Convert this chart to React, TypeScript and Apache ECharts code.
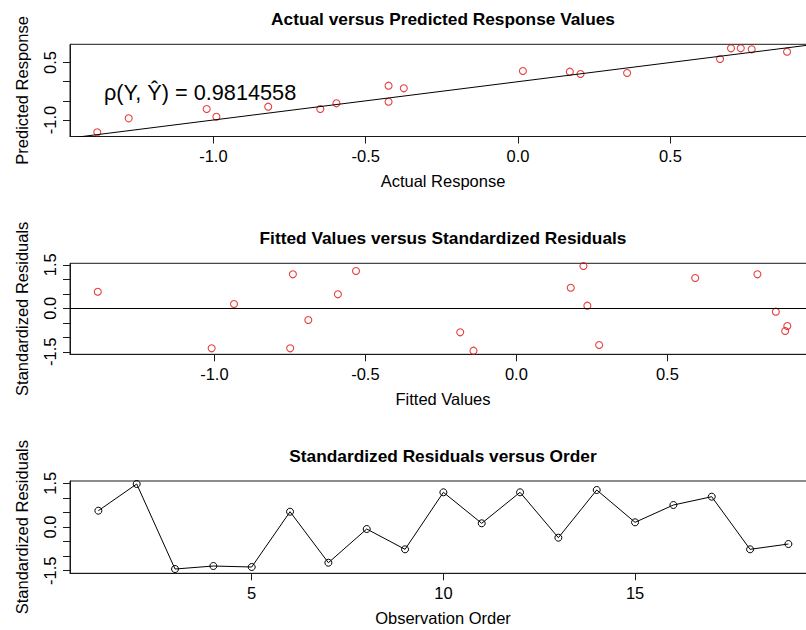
import React, { useEffect, useRef } from "react";
import * as echarts from "echarts";

// ---- Data ----
// Panel 1: Actual vs Predicted
const actualResponse = [
  -1.381, -1.278, -1.022, -0.99, -0.82, -0.649, -0.596, -0.425, -0.425, -0.375,
  0.016, 0.17, 0.205, 0.358, 0.663, 0.699, 0.731, 0.767, 0.883,
];
const predictedResponse = [
  -1.321, -0.956, -0.713, -0.914, -0.653, -0.713, -0.564, -0.105, -0.523, -0.173,
  0.278, 0.26, 0.2, 0.226, 0.591, 0.871, 0.871, 0.845, 0.782,
];
// identity reference line (y = x)
const refLineX = [-2, 2];
const refLineY = [-2, 2];
const corrLabel = "ρ(Y, Ŷ) = 0.9814558";

// Panel 2: Fitted vs Standardized Residuals
const fittedValues = [
  -1.386, -1.009, -0.935, -0.749, -0.74, -0.689, -0.591, -0.531, -0.186, -0.142,
  0.18, 0.222, 0.235, 0.274, 0.592, 0.798, 0.859, 0.897, 0.89,
];
const fittedResiduals = [
  0.572, -1.379, 0.148, -1.379, 1.172, -0.403, 0.483, 1.286, -0.828, -1.462,
  0.71, 1.459, 0.09, -1.266, 1.045, 1.172, -0.117, -0.61, -0.783,
];

// Panel 3: Standardized residuals vs observation order
const observationOrder = [1, 2, 3, 4, 5, 6, 7, 8, 9, 10, 11, 12, 13, 14, 15, 16, 17, 18, 19];
const orderResiduals = [
  0.56, 1.476, -1.442, -1.339, -1.373, 0.525, -1.226, -0.069, -0.766, 1.191,
  0.127, 1.191, -0.367, 1.27, 0.161, 0.755, 1.04, -0.766, -0.584,
];

// Tick values / labels
const xTicksResp = [-1, -0.5, 0, 0.5];
const yTicksResp = [-1, -0.5, 0, 0.5];
const yLabelsResp = [-1, 0.5];
const xTicksFitted = [-1, -0.5, 0, 0.5];
const resTicks = [-1.5, -1, -0.5, 0, 0.5, 1, 1.5];
const resLabels = [-1.5, 0, 1.5];
const orderTicks = [5, 10, 15];

const titles = [
  "Actual versus Predicted Response Values",
  "Fitted Values versus Standardized Residuals",
  "Standardized Residuals versus Order",
];
const xNames = ["Actual Response", "Fitted Values", "Observation Order"];
const yNames = ["Predicted Response", "Standardized Residuals", "Standardized Residuals"];

const FONT = "'Liberation Sans', Arial, Helvetica, sans-serif";
const AX_FONT = 16.5;
const INK = "#1a1a1a";
const RED = "#e01010";

export default function App() {
  const ref = useRef<HTMLDivElement>(null);

  useEffect(() => {
    if (!ref.current) return;
    const chart = echarts.init(ref.current, undefined, { renderer: "svg" });

    const plotLeft = 70;
    const plotWidth = 746;
    const grids = [
      { top: 44.3, height: 92.2 },
      { top: 263.3, height: 91 },
      { top: 481, height: 92.3 },
    ];

    const fmt1 = (v: number) => v.toFixed(1);
    const fmt0 = (v: number) => String(v);

    const xAxisBase = (min: number, max: number, ticks: number[], fmt: (v: number) => string, name: string, gi: number) => ({
      type: "value",
      gridIndex: gi,
      min,
      max,
      name,
      nameLocation: "middle",
      nameGap: 36,
      nameTextStyle: { fontFamily: FONT, fontSize: AX_FONT, color: "#000" },
      axisLine: { show: true, onZero: false, lineStyle: { color: INK, width: 1 } },
      axisTick: { show: true, inside: false, length: 7, customValues: ticks, lineStyle: { color: INK, width: 1 } },
      axisLabel: {
        show: true,
        customValues: ticks,
        formatter: fmt,
        margin: 11,
        fontFamily: FONT,
        fontSize: AX_FONT,
        color: "#000",
      },
      splitLine: { show: false },
    });

    const yAxisBase = (min: number, max: number, ticks: number[], labels: number[], name: string, gi: number) => ({
      type: "value",
      gridIndex: gi,
      min,
      max,
      name,
      nameLocation: "middle",
      nameGap: 40,
      nameRotate: 90,
      nameTextStyle: { fontFamily: FONT, fontSize: AX_FONT, color: "#000" },
      axisLine: { show: true, onZero: false, lineStyle: { color: INK, width: 1 } },
      axisTick: { show: true, inside: false, length: 7, customValues: ticks, lineStyle: { color: INK, width: 1 } },
      axisLabel: {
        show: true,
        customValues: labels,
        formatter: fmt1,
        rotate: 90,
        margin: 12,
        fontFamily: FONT,
        fontSize: AX_FONT,
        color: "#000",
      },
      splitLine: { show: false },
    });

    const option: any = {
      animation: false,
      backgroundColor: "#fff",
      grid: grids.map((g) => ({
        left: plotLeft,
        width: plotWidth,
        top: g.top,
        height: g.height,
        show: true,
        borderColor: INK,
        borderWidth: 1,
        backgroundColor: "transparent",
        containLabel: false,
        outerBoundsMode: "none",
      })),
      xAxis: [
        xAxisBase(-1.4706, 0.978, xTicksResp, fmt1, xNames[0], 0),
        xAxisBase(-1.478, 0.992, xTicksFitted, fmt1, xNames[1], 1),
        xAxisBase(0.26, 19.72, orderTicks, fmt0, xNames[2], 2),
      ],
      yAxis: [
        yAxisBase(-1.43, 0.975, yTicksResp, yLabelsResp, yNames[0], 0),
        yAxisBase(-1.586, 1.552, resTicks, resLabels, yNames[1], 1),
        yAxisBase(-1.589, 1.579, resTicks, resLabels, yNames[2], 2),
      ],
      graphic: [
        ...titles.map((t, i) => ({
          type: "text",
          x: plotLeft + plotWidth / 2,
          y: grids[i].top - 25,
          silent: true,
          style: {
            text: t,
            fill: "#000",
            font: `bold 17.3px ${FONT}`,
            textAlign: "center",
            textVerticalAlign: "middle",
          },
        })),
        {
          type: "text",
          x: 104,
          y: 92,
          silent: true,
          style: {
            text: corrLabel,
            fill: "#000",
            font: `21.7px ${FONT}`,
            textAlign: "left",
            textVerticalAlign: "middle",
          },
        },
      ],
      series: [
        {
          type: "line",
          xAxisIndex: 0,
          yAxisIndex: 0,
          data: refLineX.map((x, i) => [x, refLineY[i]]),
          showSymbol: false,
          symbol: "none",
          silent: true,
          clip: true,
          lineStyle: { color: "#000", width: 1 },
        },
        {
          type: "scatter",
          xAxisIndex: 0,
          yAxisIndex: 0,
          data: actualResponse.map((a, i) => [a, predictedResponse[i]]),
          symbol: "circle",
          symbolSize: 7,
          itemStyle: { color: "transparent", borderColor: RED, borderWidth: 1.1 },
        },
        {
          type: "scatter",
          xAxisIndex: 1,
          yAxisIndex: 1,
          data: fittedValues.map((f, i) => [f, fittedResiduals[i]]),
          symbol: "circle",
          symbolSize: 7,
          itemStyle: { color: "transparent", borderColor: RED, borderWidth: 1.1 },
          markLine: {
            silent: true,
            symbol: "none",
            label: { show: false },
            lineStyle: { color: "#000", type: "solid", width: 1 },
            data: [{ yAxis: 0 }],
          },
        },
        {
          type: "line",
          xAxisIndex: 2,
          yAxisIndex: 2,
          data: observationOrder.map((o, i) => [o, orderResiduals[i]]),
          symbol: "circle",
          symbolSize: 7,
          showAllSymbol: true,
          itemStyle: { color: "transparent", borderColor: "#000", borderWidth: 1 },
          lineStyle: { color: "#000", width: 1 },
        },
      ],
    };

    chart.setOption(option);
    return () => chart.dispose();
  }, []);

  return (
    <div
      ref={ref}
      style={{ position: "fixed", left: 0, top: 0, width: 806, height: 630, background: "#fff" }}
    />
  );
}
